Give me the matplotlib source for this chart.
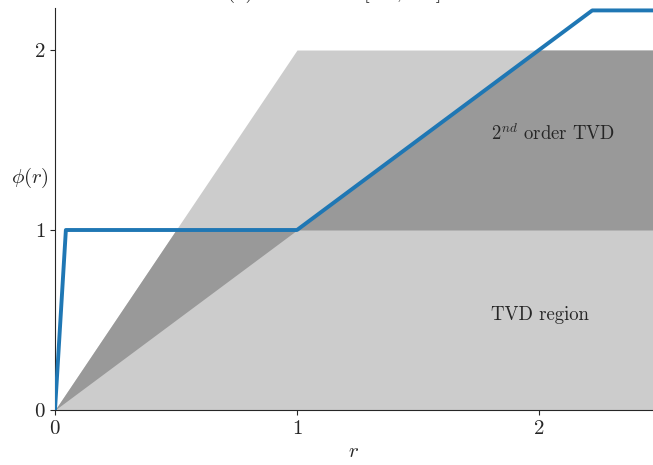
import numpy as np
import matplotlib
matplotlib.use("Agg")
import matplotlib.pyplot as plt
import seaborn as sns

# limiter curve
r_limiter = [0.0, 0.045, 1.0, 2.22, 2.5]
phi_limiter = [0.0, 1.0, 1.0, 2.22, 2.22]

# region boundaries sampled along r
r_grid = np.array([0.0, 0.5, 1.0, 2.0, 2.5])
tvd_upper = np.array([0.0, 1.0, 2.0, 2.0, 2.0])
second_lower = np.array([0.0, 0.5, 1.0, 1.0, 1.0])
second_upper = np.array([0.0, 1.0, 1.0, 2.0, 2.0])

ticks = [0, 1, 2]

sns.set_style("ticks")
plt.rcParams["font.family"] = "serif"
plt.rcParams["font.serif"] = ["cmr10", "DejaVu Serif"]
plt.rcParams["mathtext.fontset"] = "cm"
plt.rcParams["axes.formatter.use_mathtext"] = True
plt.rcParams["axes.unicode_minus"] = False

fig = plt.figure(figsize=(6.53, 4.65), dpi=100)
ax = fig.add_axes([0.0842, 0.1183, 0.9158, 0.8651])

ax.fill_between(r_grid, 0, tvd_upper, color="#cccccc", lw=0)
ax.fill_between(r_grid, second_lower, second_upper, color="#999999", lw=0)
ax.plot(r_limiter, phi_limiter, color="#1f77b4", lw=2.8, zorder=3)

ax.text(1.8, 1.5, r"$2^{nd}$ order TVD", fontsize=13.5, color="#262626")
ax.text(1.8, 0.5, "TVD region", fontsize=13.5, color="#262626")

ax.set_xlim(0, 2.471)
ax.set_ylim(0, 2.235)
ax.set_xticks(ticks)
ax.set_yticks(ticks)
ax.tick_params(labelsize=15)
ax.set_xlabel("$r$", fontsize=15)
ax.set_ylabel(r"$\phi(r)$", fontsize=15, rotation=0)
ax.yaxis.set_label_coords(-0.042, 0.548)
sns.despine(ax=ax)

# title sits mostly above the visible canvas
fig.text(0.5115, 1.005, "(a) Limiter on [0.0, 2.5]", fontsize=15,
         ha="center", va="baseline", color="#262626")

fig.savefig("out.png", dpi=100)
